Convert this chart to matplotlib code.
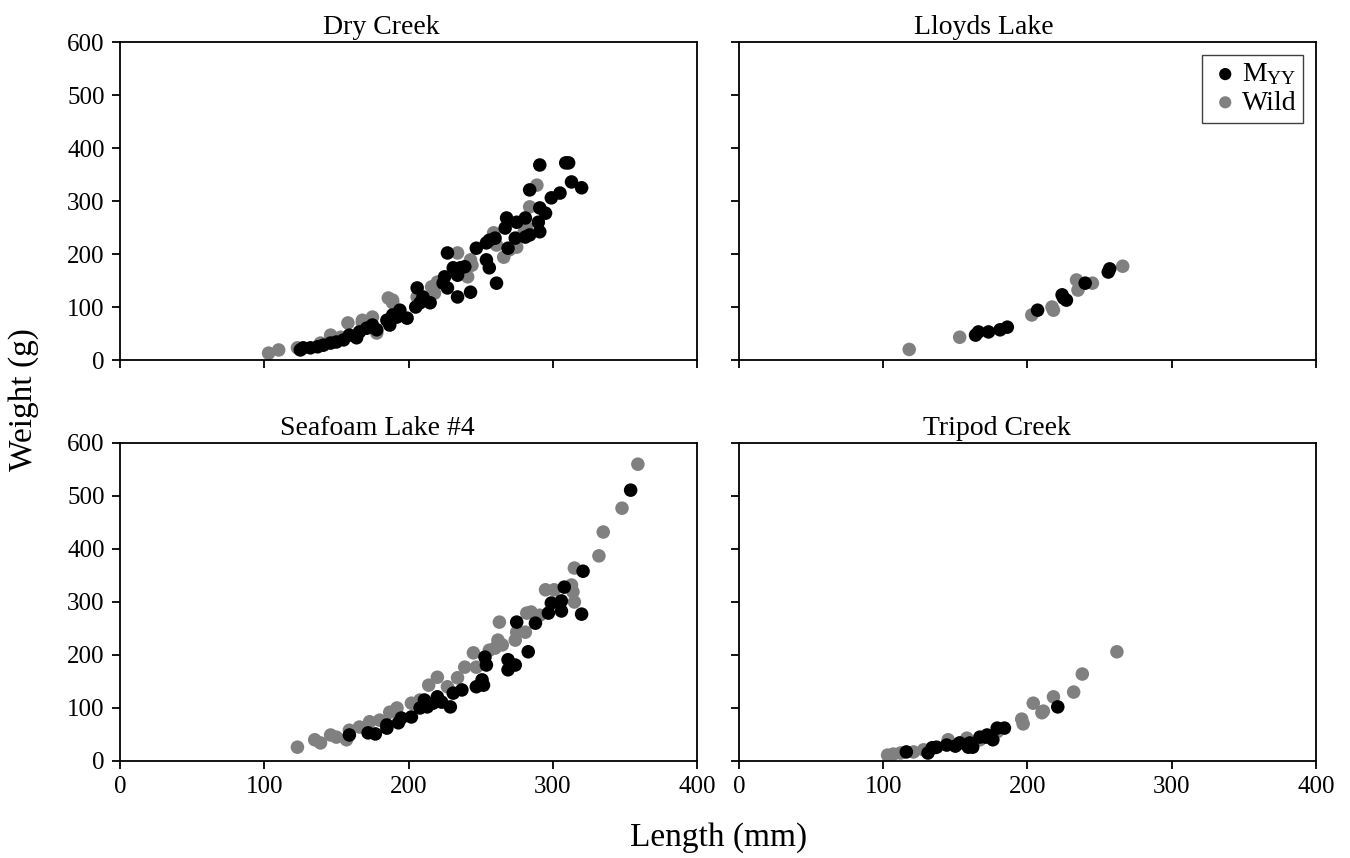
import numpy as np
import matplotlib
matplotlib.use("Agg")
import matplotlib.pyplot as plt

plt.rcParams["font.family"] = ["Liberation Serif", "DejaVu Serif"]
plt.rcParams["mathtext.fontset"] = "custom"
plt.rcParams["mathtext.rm"] = "Liberation Serif"

# Dry Creek
dry_myy_len = [291, 309, 311, 313, 320, 299, 305, 284, 291, 295, 290, 291, 284, 281, 274, 269,
               268, 275, 281, 267, 260, 254, 256, 247, 227, 254, 256, 261, 243, 234, 231, 236,
               239, 234, 225, 224, 227, 206, 210, 215, 208, 205, 194, 192, 199, 187, 189, 185,
               178, 175, 171, 166, 164, 159, 155, 150, 146, 141, 137, 132, 127, 125]
dry_myy_wt = [368, 372, 372, 336, 325, 306, 315, 321, 287, 277, 260, 242, 236, 232, 230, 211,
              268, 260, 268, 249, 230, 221, 226, 211, 202, 189, 174, 145, 128, 119, 174, 174,
              176, 160, 157, 145, 136, 136, 119, 108, 108, 100, 94, 81, 79, 66, 85, 75,
              57, 66, 60, 53, 42, 47, 38, 34, 32, 28, 25, 23, 23, 19]
dry_wild_len = [103, 110, 289, 284, 282, 280, 275, 266, 270, 259, 261, 234, 243, 241, 244, 220,
                216, 218, 206, 186, 189, 189, 175, 168, 178, 158, 146, 153, 168, 139, 123]
dry_wild_wt = [13, 19, 330, 289, 249, 240, 213, 194, 208, 240, 217, 202, 189, 157, 179, 147,
               138, 126, 119, 117, 113, 108, 81, 70, 51, 70, 47, 43, 75, 32, 23]

# Lloyds Lake
lloyd_myy_len = [164, 166, 173, 181, 186, 207, 224, 227, 225, 240, 256, 257]
lloyd_myy_wt = [47, 53, 53, 57, 62, 94, 123, 113, 117, 145, 166, 172]
lloyd_wild_len = [118, 153, 203, 217, 218, 234, 235, 245, 266]
lloyd_wild_wt = [20, 43, 85, 100, 94, 151, 132, 145, 177]

# Seafoam Lake #4
sea_myy_len = [354, 321, 308, 299, 306, 306, 297, 320, 288, 275, 283, 253, 254, 269, 274, 269,
               247, 252, 251, 237, 231, 229, 223, 217, 213, 208, 211, 220, 202, 195, 193, 185,
               185, 177, 172, 159]
sea_myy_wt = [511, 358, 328, 298, 302, 283, 279, 277, 260, 262, 206, 196, 181, 191, 181, 172,
              140, 143, 153, 134, 128, 102, 111, 109, 102, 100, 115, 121, 83, 81, 72, 68,
              62, 51, 53, 49]
sea_wild_len = [359, 348, 335, 332, 315, 313, 314, 315, 295, 301, 282, 285, 291, 263, 275, 281,
                274, 262, 265, 256, 260, 245, 239, 247, 220, 234, 227, 214, 208, 202, 192, 187,
                180, 173, 166, 159, 150, 146, 139, 135, 157, 123]
sea_wild_wt = [560, 477, 432, 387, 364, 332, 319, 300, 323, 323, 279, 281, 275, 262, 243, 243,
               228, 228, 219, 209, 213, 204, 177, 177, 158, 157, 140, 143, 115, 109, 100, 92,
               77, 74, 64, 58, 45, 49, 34, 40, 40, 26]

# Tripod Creek
tri_myy_len = [221, 116, 131, 134, 137, 144, 150, 160, 162, 159, 167, 172, 176, 179, 184, 171, 153]
tri_myy_wt = [102, 17, 15, 25, 26, 30, 28, 34, 26, 26, 45, 49, 40, 62, 62, 45, 34]
tri_wild_len = [262, 238, 232, 218, 204, 211, 210, 196, 197, 103, 107, 112, 121, 128, 136, 145,
                158, 153, 179, 167]
tri_wild_wt = [206, 164, 130, 121, 109, 94, 91, 79, 70, 11, 13, 15, 17, 21, 25, 40,
               43, 34, 55, 40]

panels = [
    ("Dry Creek", dry_myy_len, dry_myy_wt, dry_wild_len, dry_wild_wt),
    ("Lloyds Lake", lloyd_myy_len, lloyd_myy_wt, lloyd_wild_len, lloyd_wild_wt),
    ("Seafoam Lake #4", sea_myy_len, sea_myy_wt, sea_wild_len, sea_wild_wt),
    ("Tripod Creek", tri_myy_len, tri_myy_wt, tri_wild_len, tri_wild_wt),
]
# titles sit a bit left of centre in the original
title_x = [0.452, 0.424, 0.446, 0.447]

fig = plt.figure(figsize=(13.5, 8.58), dpi=100)
lefts = [0.0889, 0.5474]
bottoms = [0.5804, 0.1131]
w = 0.4274
h = 0.3706

axes = []
for i, (name, ml, mw, wl, ww) in enumerate(panels):
    r, c = divmod(i, 2)
    ax = fig.add_axes([lefts[c], bottoms[r], w, h])
    ax.scatter(wl, ww, s=95, color="#808080", edgecolors="none", label="Wild", zorder=2)
    ax.scatter(ml, mw, s=95, color="black", edgecolors="none",
               label=r"$\mathregular{M_{YY}}$", zorder=3)
    ax.set_xlim(0, 400)
    ax.set_ylim(0, 600)
    ax.set_xticks([0, 100, 200, 300, 400])
    ax.set_yticks([0, 100, 200, 300, 400, 500, 600])
    ax.set_title(name, fontsize=20, pad=6, x=title_x[i])
    ax.tick_params(direction="out", length=6, width=1.3, labelsize=18, pad=5)
    for sp in ax.spines.values():
        sp.set_linewidth(1.3)
    if r == 0:
        ax.tick_params(labelbottom=False)
    if c == 1:
        ax.tick_params(labelleft=False)
    axes.append(ax)

h_, l_ = axes[1].get_legend_handles_labels()
leg = axes[1].legend(h_[::-1], l_[::-1], loc="upper right", fontsize=20, frameon=True,
                     fancybox=False, edgecolor="#404040", framealpha=1,
                     handletextpad=0.0, borderpad=0.25, labelspacing=0.1,
                     handlelength=1.2, borderaxespad=0.45, markerscale=0.9)
leg.get_frame().set_linewidth(1.0)

fig.text(0.532, 0.006, "Length (mm)", ha="center", va="bottom", fontsize=24)
fig.text(0.006, 0.534, "Weight (g)", ha="left", va="center", rotation=90, fontsize=24)

fig.savefig("out.png", dpi=100)
